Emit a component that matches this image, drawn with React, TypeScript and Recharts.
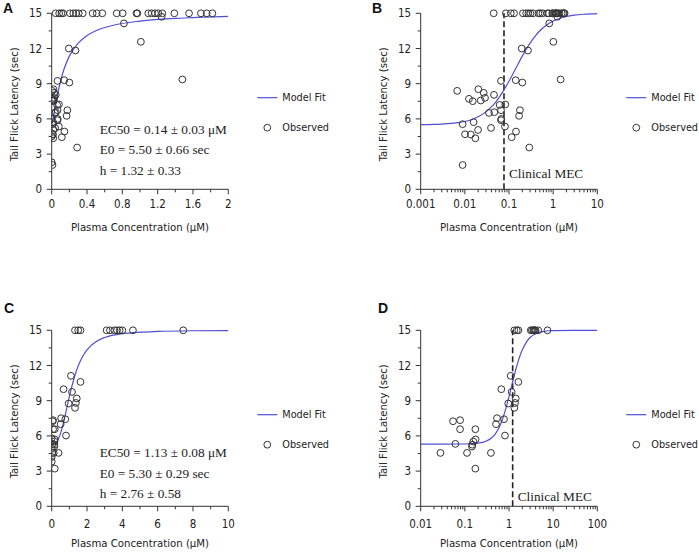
import React from 'react';
import { ComposedChart, XAxis, YAxis, Line, Scatter, ReferenceLine } from 'recharts';

// Panels A/B: observed latency vs plasma concentration (same data, linear / log axis)
const abConc = [
  0.0067, 0.0089, 0.0089, 0.0101, 0.0124, 0.0136, 0.0151, 0.0158, 0.0173, 0.0199,
  0.0202, 0.0229, 0.0267, 0.0286, 0.0352, 0.0391, 0.0457, 0.0465, 0.0615, 0.0659,
  0.0659, 0.0659, 0.067, 0.0811, 0.0824, 0.115, 0.142, 0.144, 0.169, 0.177,
  0.194, 0.2, 0.269, 0.288, 0.818, 1.01, 1.245, 1.48,
  0.045, 0.085, 0.11, 0.13, 0.207, 0.245, 0.275, 0.306, 0.351, 0.464,
  0.51, 0.573, 0.736, 0.804, 0.96, 0.97, 1.094, 1.132, 1.17, 1.207,
  1.253, 1.389, 1.555, 1.69, 1.755, 1.82,
];
const abLatency = [
  8.39, 5.55, 2.07, 4.69, 7.71, 4.67, 7.51, 5.72, 4.35, 5.06,
  8.53, 7.57, 8.22, 7.79, 6.51, 5.23, 8.05, 6.57, 7.19, 9.24,
  6.74, 5.89, 6.0, 5.35, 7.23, 4.44, 9.3, 4.92, 6.26, 6.74,
  12.0, 9.1, 11.83, 3.56, 14.14, 12.57, 14.7, 9.36,
  15, 15, 15, 15, 15, 15, 15, 15, 15, 15,
  15, 15, 15, 15, 15, 15, 15, 15, 15, 15,
  15, 15, 15, 15, 15, 15,
];
// samples with no measurable concentration only show on the linear axis
const aZeroLatency = [2.3, 4.5, 6.0, 7.6];

// Panels C/D
const cdConc = [
  0.028, 0.054, 0.061, 0.078, 0.078, 0.112, 0.145, 0.148, 0.156, 0.175,
  0.173, 0.173, 0.39, 0.508, 0.535, 0.67, 0.77, 0.81, 0.96, 1.09,
  1.15, 1.32, 1.37, 1.42, 1.63,
  1.32, 1.5, 1.63, 3.11, 3.3, 3.55, 3.7, 3.85, 4.0, 4.6, 7.45,
];
const cdLatency = [
  4.55, 7.25, 5.32, 7.34, 6.57, 4.55, 5.09, 5.25, 5.52, 5.7,
  6.57, 3.21, 4.55, 7.0, 7.51, 9.98, 7.42, 6.03, 8.76, 11.12,
  9.75, 8.39, 8.81, 9.19, 10.6,
  15, 15, 15, 15, 15, 15, 15, 15, 15, 15, 15,
];
const cZeroLatency = [3.8, 4.2, 4.9, 5.8];

// model fit curves
const abFitConc = [0.001, 0.002, 0.003, 0.005, 0.007, 0.01, 0.015, 0.02, 0.03, 0.04, 0.05, 0.07, 0.1, 0.14, 0.2, 0.3, 0.4, 0.5, 0.7, 1, 1.5, 2, 3, 5, 10];
const abFitLatency = [5.51, 5.53, 5.56, 5.62, 5.68, 5.78, 5.97, 6.18, 6.6, 7.02, 7.44, 8.22, 9.21, 10.25, 11.35, 12.46, 13.1, 13.51, 13.98, 14.34, 14.6, 14.73, 14.84, 14.92, 14.97];
const cdFitConc = [0.01, 0.03, 0.1, 0.2, 0.3, 0.4, 0.5, 0.6, 0.7, 0.8, 0.9, 1.0, 1.13, 1.2, 1.4, 1.6, 1.8, 2.0, 2.5, 3, 4, 5, 6, 8, 10, 30, 100];
const cdFitLatency = [5.3, 5.3, 5.31, 5.38, 5.54, 5.82, 6.22, 6.74, 7.34, 8.0, 8.68, 9.34, 10.15, 10.55, 11.55, 12.31, 12.9, 13.34, 14.02, 14.39, 14.71, 14.84, 14.9, 14.96, 14.98, 15.0, 15.0];

const abMec = 0.077;
const cdMec = 1.21;

const aStats = ['EC50 = 0.14 ± 0.03 μM', 'E0 = 5.50 ± 0.66 sec', 'h = 1.32 ± 0.33'];
const cStats = ['EC50 = 1.13 ± 0.08 μM', 'E0 = 5.30 ± 0.29 sec', 'h = 2.76 ± 0.58'];

const aTicks = [0, 0.2, 0.4, 0.6, 0.8, 1.0, 1.2, 1.4, 1.6, 1.8, 2.0];
const cTicks = [0, 1, 2, 3, 4, 5, 6, 7, 8, 9, 10];
const yTicks = [0, 1.5, 3, 4.5, 6, 7.5, 9, 10.5, 12, 13.5, 15];

const AXIS = '#333';
const MARK = '#333';
const FIT = '#4f4fd8';
const SANS = "'DejaVu Sans Condensed', 'Liberation Sans', Arial, sans-serif";
const SERIF = "'Liberation Serif', 'Times New Roman', serif";

const PLOT_TOP = 13.3;
const PLOT_H = 176;
const PLOT_W = 176.6;
const CHART_H = 240;

const toPoints = (xs: number[], ys: number[]) => xs.map((x, i) => ({ x, y: ys[i] }));

// decade ticks with minor ticks at 2..9
function logTicks(fromExp: number, toExp: number) {
  const out: number[] = [];
  for (let e = fromExp; e < toExp; e++) {
    for (let d = 1; d < 10; d++) out.push(Number((d * 10 ** e).toPrecision(6)));
  }
  out.push(10 ** toExp);
  return out;
}
const isDecade = (v: number) => Math.abs(Math.log10(v) - Math.round(Math.log10(v))) < 1e-9;

function XTick(props: any) {
  const { x, y, payload, isMajor, dy } = props;
  const major = isMajor(payload.value);
  return (
    <g>
      <line x1={x} x2={x} y1={y} y2={y + (major ? 5 : 3)} stroke={AXIS} />
      {major && (
        <text x={x} y={y + dy} textAnchor="middle" dominantBaseline="central" fontFamily={SANS} fontSize={11.5} fill="#222">
          {String(payload.value)}
        </text>
      )}
    </g>
  );
}

function YTick(props: any) {
  const { x, y, payload } = props;
  const major = payload.value % 3 === 0;
  return (
    <g>
      <line x1={x - (major ? 5 : 3)} x2={x} y1={y} y2={y} stroke={AXIS} />
      {major && (
        <text x={x - 9.5} y={y} textAnchor="end" dominantBaseline="central" fontFamily={SANS} fontSize={11.5} fill="#222">
          {payload.value}
        </text>
      )}
    </g>
  );
}

const circle = (p: any) => <circle cx={p.cx} cy={p.cy} r={3.4} fill="none" stroke={MARK} strokeWidth={1} />;

interface PanelProps {
  left: number;
  top: number;
  width: number;
  plotLeft: number;
  obs: { x: number; y: number }[];
  fit: { x: number; y: number }[];
  log: boolean;
  domain: [number, number];
  ticks: number[];
  isMajor: (v: number) => boolean;
  tickDy: number;
  titleDy: number;
  mec?: number;
  mecDy?: number;
  stats?: string[];
  statsY?: number;
}

function Panel(p: PanelProps) {
  const plotRight = p.plotLeft + PLOT_W;
  const plotBottom = PLOT_TOP + PLOT_H;
  const legendX = plotRight + 29;
  const yTitleX = p.plotLeft - 37;
  const yTitleY = PLOT_TOP + PLOT_H / 2 + 3;
  return (
    <div style={{ position: 'absolute', left: p.left, top: p.top }}>
      <ComposedChart
        width={p.width}
        height={CHART_H}
        margin={{ top: PLOT_TOP, right: p.width - plotRight, bottom: CHART_H - plotBottom - 45, left: 0 }}
      >
        <XAxis
          dataKey="x"
          type="number"
          scale={p.log ? 'log' : 'linear'}
          domain={p.domain}
          allowDataOverflow
          ticks={p.ticks}
          interval={0}
          height={45}
          tickSize={0}
          tickMargin={0}
          tickLine={false}
          stroke={AXIS}
          tick={(tp: any) => <XTick {...tp} isMajor={p.isMajor} dy={p.tickDy} />}
        />
        <YAxis
          dataKey="y"
          type="number"
          domain={[0, 15]}
          ticks={yTicks}
          interval={0}
          width={p.plotLeft}
          tickSize={0}
          tickMargin={0}
          tickLine={false}
          stroke={AXIS}
          tick={(tp: any) => <YTick {...tp} />}
        />
        {p.mec !== undefined && (
          <ReferenceLine
            x={p.mec}
            stroke="#222"
            strokeWidth={1.6}
            strokeDasharray="6 3"
            label={(lp: any) => (
              <text
                x={lp.viewBox.x + 5}
                y={lp.viewBox.y + lp.viewBox.height - (p.mecDy ?? 16)}
                dominantBaseline="central"
                fontFamily={SERIF}
                fontSize={13.3}
                fill="#222"
              >
                Clinical MEC
              </text>
            )}
          />
        )}
        <Line data={p.fit} dataKey="y" type="monotone" stroke={FIT} strokeWidth={1.2} dot={false} activeDot={false} isAnimationActive={false} />
        <Scatter data={p.obs} dataKey="y" shape={circle} isAnimationActive={false} />

        <text
          x={yTitleX}
          y={yTitleY}
          transform={`rotate(-90 ${yTitleX} ${yTitleY})`}
          textAnchor="middle"
          dominantBaseline="central"
          fontFamily={SANS}
          fontSize={11.3}
          fill="#222"
        >
          Tail Flick Latency (sec)
        </text>
        <text
          x={p.plotLeft + PLOT_W / 2}
          y={plotBottom + p.titleDy}
          textAnchor="middle"
          dominantBaseline="central"
          fontFamily={SANS}
          fontSize={11.3}
          fill="#222"
        >
          Plasma Concentration (μM)
        </text>

        <g fontFamily={SANS} fontSize={10.8} fill="#222">
          <line x1={legendX} x2={legendX + 20} y1={97.7} y2={97.7} stroke={FIT} strokeWidth={1.2} />
          <text x={legendX + 25} y={97.7} dominantBaseline="central">Model Fit</text>
          <circle cx={legendX + 10} cy={127.7} r={3.4} fill="none" stroke={MARK} />
          <text x={legendX + 25} y={127.7} dominantBaseline="central">Observed</text>
        </g>

        {p.stats && (
          <g fontFamily={SERIF} fontSize={13.3} fill="#222">
            {p.stats.map((s, i) => (
              <text key={s} x={p.plotLeft + 48} y={(p.statsY ?? 129) + i * 20.6} dominantBaseline="central">
                {s}
              </text>
            ))}
          </g>
        )}
      </ComposedChart>
    </div>
  );
}

const letterStyle: React.CSSProperties = {
  position: 'absolute',
  fontFamily: "'Liberation Sans', Arial, sans-serif",
  fontWeight: 'bold',
  fontSize: 14,
  lineHeight: '14px',
  color: '#111',
};

export default function App() {
  const obsAB = toPoints(abConc, abLatency);
  const obsA = [...aZeroLatency.map((y) => ({ x: 0, y })), ...obsAB];
  const fitB = toPoints(abFitConc, abFitLatency);
  const fitA = [{ x: 0, y: 5.5 }, ...fitB.filter((d) => d.x <= 2)];

  const obsCD = toPoints(cdConc, cdLatency);
  const obsC = [...cZeroLatency.map((y) => ({ x: 0, y })), ...obsCD];
  const fitD = toPoints(cdFitConc, cdFitLatency);
  const fitC = [{ x: 0, y: 5.3 }, ...fitD.filter((d) => d.x <= 10)];

  const aMajor = (v: number) => Math.abs(v / 0.4 - Math.round(v / 0.4)) < 1e-6;
  const cMajor = (v: number) => v % 2 === 0;

  return (
    <div style={{ position: 'absolute', left: 0, top: 0, width: 699, height: 553, background: '#fff', overflow: 'hidden' }}>
      <Panel left={0} top={0} width={350} plotLeft={51.7} obs={obsA} fit={fitA} log={false} domain={[0, 2]}
        ticks={aTicks} isMajor={aMajor} tickDy={15} titleDy={38.5} stats={aStats} statsY={129} />
      <Panel left={350} top={0} width={349} plotLeft={70.7} obs={obsAB} fit={fitB} log domain={[0.001, 10]}
        ticks={logTicks(-3, 1)} isMajor={isDecade} tickDy={15} titleDy={38.5} mec={abMec} mecDy={16} />
      <Panel left={0} top={317} width={350} plotLeft={51.7} obs={obsC} fit={fitC} log={false} domain={[0, 10]}
        ticks={cTicks} isMajor={cMajor} tickDy={17.5} titleDy={37} stats={cStats} statsY={135.7} />
      <Panel left={350} top={317} width={349} plotLeft={70.7} obs={obsCD} fit={fitD} log domain={[0.01, 100]}
        ticks={logTicks(-2, 2)} isMajor={isDecade} tickDy={17.5} titleDy={37} mec={cdMec} mecDy={9.5} />

      <div style={{ ...letterStyle, left: 3, top: 1 }}>A</div>
      <div style={{ ...letterStyle, left: 372, top: 1 }}>B</div>
      <div style={{ ...letterStyle, left: 4, top: 301 }}>C</div>
      <div style={{ ...letterStyle, left: 378, top: 301 }}>D</div>
    </div>
  );
}
